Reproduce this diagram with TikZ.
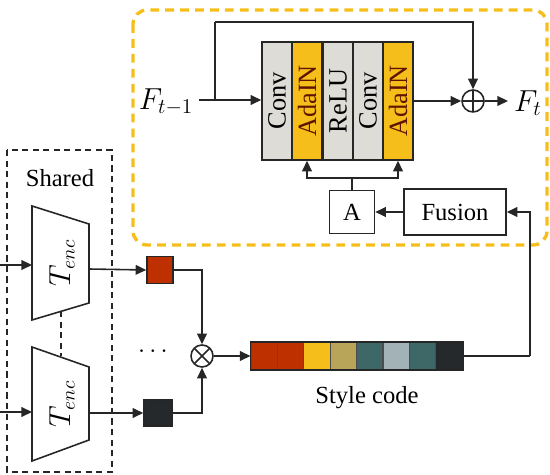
\documentclass[tikz,border=0pt]{standalone}
\usepackage{amsmath,amssymb}
\usepackage{fontspec}
\setmainfont{Liberation Serif}
\usepackage{tikz}
\usetikzlibrary{calc,arrows.meta,positioning}

\definecolor{colgray}{RGB}{222,220,214}
\definecolor{colyel}{RGB}{246,190,26}
\definecolor{colred}{RGB}{190,48,0}
\definecolor{cololive}{RGB}{185,165,90}
\definecolor{colteal}{RGB}{62,104,104}
\definecolor{collight}{RGB}{163,178,182}
\definecolor{coldark}{RGB}{38,41,44}
\definecolor{adatext}{RGB}{95,20,0}

\tikzset{
  line/.style = {line width=0.9pt, draw=black!85},
  arr/.style = {line, -{Triangle[length=6pt,width=5.5pt]}},
  col/.style = {draw=black!85, line width=0.9pt, fill=#1, inner sep=0pt,
                minimum width=0.6cm, minimum height=2.36cm},
  box/.style = {draw=black!85, line width=0.9pt, fill=white, inner sep=0pt},
  cell/.style = {draw=black!70, line width=0.6pt, fill=#1, inner sep=0pt,
                 minimum width=0.528cm, minimum height=0.54cm},
  ring/.style = {draw=black!85, line width=0.9pt, circle, inner sep=0pt,
                 minimum size=0.44cm},
}

\begin{document}
\begin{tikzpicture}[x=0.02cm, y=-0.02cm, font=\fontsize{14}{16}\selectfont]
  \useasboundingbox (0,0) rectangle (550,475);
  % residual block (yellow frame)
  \path[draw=colyel, line width=1.9pt, dash pattern=on 5pt off 3.5pt, rounded corners=8pt]
    (133,10) rectangle (547,245);
  % columns
  \node[col=colgray] (c1) at (277,101) {\fontsize{15}{18}\selectfont\rotatebox{90}{Conv}};
  \node[col=colyel]  (c2) at (307,101) {\fontsize{15}{18}\selectfont\rotatebox{90}{\color{adatext}AdaIN}};
  \node[col=colgray] (c3) at (338,101) {\fontsize{15}{18}\selectfont\rotatebox{90}{ReLU}};
  \node[col=colgray] (c4) at (368,101) {\fontsize{15}{18}\selectfont\rotatebox{90}{Conv}};
  \node[col=colyel]  (c5) at (398,101) {\fontsize{15}{18}\selectfont\rotatebox{90}{\color{adatext}AdaIN}};
  % input / output
  \node (fin) at (166,102) {\fontsize{17}{20}\selectfont$F_{t-1}$};
  \node[ring, path picture={
      \draw[line] (path picture bounding box.north) -- (path picture bounding box.south)
                  (path picture bounding box.west) -- (path picture bounding box.east);}]
    (plus) at (473,101) {};
  \node (fout) at (528,103) {\fontsize{17}{20}\selectfont$F_t$};
  \coordinate (br) at (215,100);
  \coordinate (top) at (215,22);
  \draw[arr] (fin.east |- br) -- (c1.west |- br);
  \draw[line] (br) -- (top);
  \draw[arr] (top) -| (plus.north);
  \draw[arr] (c5.east) -- (plus.west);
  \draw[arr] (plus.east) -- (fout.west |- plus);
  % A and Fusion
  \node[box, minimum width=0.9cm, minimum height=0.86cm] (abox) at (352,212) {A};
  \node[box, minimum width=2.04cm, minimum height=0.92cm] (fus) at (455,212) {Fusion};
  \coordinate (sp) at (352,178);
  \draw[arr] (fus.west) -- (abox.east);
  \draw[line] (abox.north) -- (sp);
  \draw[arr] (sp) -| (c2.south);
  \draw[arr] (sp) -| (c5.south);

  % shared encoders
  \path[draw=black!85, line width=0.8pt, dash pattern=on 3.5pt off 2.5pt]
    (7,150) rectangle (112,472);
  \node (shr) at (60,178) {Shared};
  \path[draw, line width=0.9pt, draw=black!85] (32,206) -- (89,224) -- (89,303) -- (32,320) -- cycle;
  \path[draw, line width=0.9pt, draw=black!85] (32,347) -- (89,367) -- (89,440) -- (32,461) -- cycle;
  \node (te1) at (62,263) {\fontsize{16}{18}\selectfont\rotatebox{90}{$T_{enc}$}};
  \node (te2) at (62,404) {\fontsize{16}{18}\selectfont\rotatebox{90}{$T_{enc}$}};
  \path[draw=black!85, line width=0.8pt, dash pattern=on 3.5pt off 2.5pt] (61,311) -- (61,356);
  \coordinate (in1) at (0,265);
  \coordinate (in2) at (0,412);
  \coordinate (e1w) at (32,265);
  \coordinate (e2w) at (32,412);
  \coordinate (e1e) at (89,269);
  \coordinate (e2e) at (89,413);
  \draw[arr] (in1) -- (e1w);
  \draw[arr] (in2) -- (e2w);
  % per-image codes
  \node[cell=colred, draw=black!85, line width=0.9pt, minimum width=0.52cm, minimum height=0.54cm] (sq1) at (160,270) {};
  \node[cell=coldark, draw=black!85, line width=0.9pt, minimum width=0.56cm, minimum height=0.52cm] (sq2) at (158,413) {};
  \node (dots) at (155,352) {$\cdots$};
  \node[ring, path picture={
      \draw[line] (path picture bounding box.north west) -- (path picture bounding box.south east)
                  (path picture bounding box.south west) -- (path picture bounding box.north east);}]
    (ot) at (202,356) {};
  \draw[arr] (e1e) -- (sq1.west);
  \draw[arr] (e2e) -- (sq2.west);
  \draw[arr] (sq1.east) -| (ot.north);
  \draw[arr] (sq2.east) -| (ot.south);
  % style code
  \foreach \c [count=\i] in {colred,colred,colyel,cololive,colteal,collight,colteal,coldark}
    \node[cell=\c] (s\i) at ({251+26.4*(\i-0.5)},356) {};
  \path[draw=black!85, line width=0.9pt] (s1.north west) rectangle (s8.south east);
  \node (sc) at (367,398) {Style code};
  \draw[arr] (ot.east) -- (s1.west);
  \coordinate (turn) at (530,356);
  \draw[line] (s8.east) -- (turn);
  \draw[arr] (turn) |- (fus.east);
\end{tikzpicture}
\end{document}
